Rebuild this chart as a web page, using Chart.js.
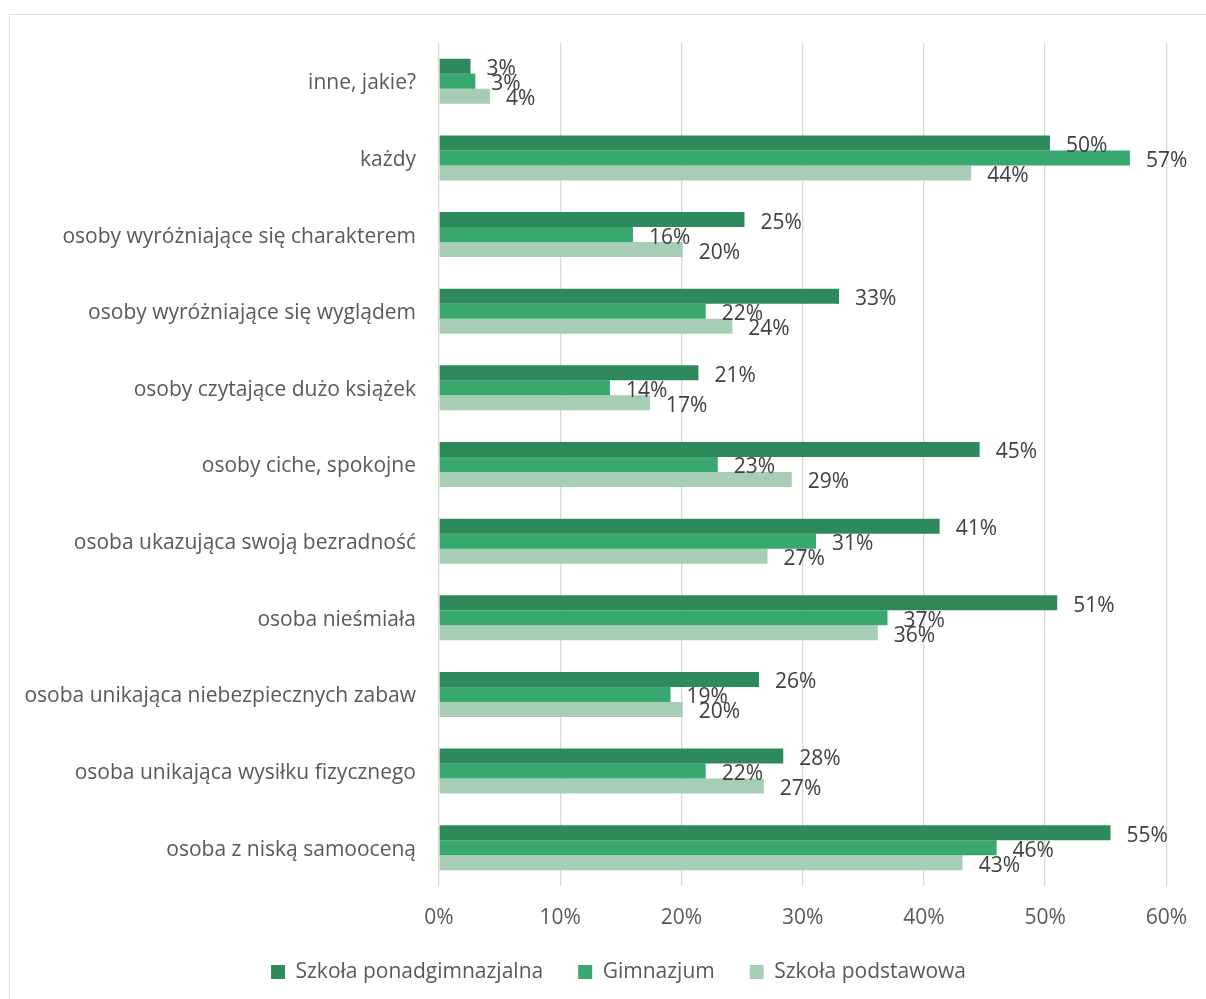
<!DOCTYPE html>
<html>
<head>
<meta charset="utf-8">
<script src="https://cdn.jsdelivr.net/npm/chart.js@4"></script>
<style>
  html, body { margin: 0; padding: 0; background: #fff; overflow: hidden; }
  #wrap { position: absolute; left: 0; top: 0; width: 1206px; height: 1030px; }
  #frame { position: absolute; left: 9px; top: 14px; width: 1300px; height: 1100px;
           border-left: 1px solid #d9d9d9; border-top: 1px solid #d9d9d9; }
</style>
</head>
<body>
<div id="frame"></div>
<div id="wrap"><canvas id="barChart"></canvas></div>
<script>
const categories = [
    'inne, jakie?',
    'każdy',
    'osoby wyróżniające się charakterem',
    'osoby wyróżniające się wyglądem',
    'osoby czytające dużo książek',
    'osoby ciche, spokojne',
    'osoba ukazująca swoją bezradność',
    'osoba nieśmiała',
    'osoba unikająca niebezpiecznych zabaw',
    'osoba unikająca wysiłku fizycznego',
    'osoba z niską samooceną'
];
const seriesNames = ['Szkoła ponadgimnazjalna', 'Gimnazjum', 'Szkoła podstawowa'];
const ponadgimnazjalna = [2.6, 50.4, 25.2, 33.0, 21.4, 44.6, 41.3, 51.0, 26.4, 28.4, 55.4];
const gimnazjum = [3.0, 57.0, 16.0, 22.0, 14.1, 23.0, 31.1, 37.0, 19.1, 22.0, 46.0];
const podstawowa = [4.2, 43.9, 20.1, 24.2, 17.4, 29.1, 27.1, 36.2, 20.1, 26.8, 43.2];
const xMax = 60;
const xStep = 10;

const FONT = "'Open Sans', sans-serif";
const FONT_SIZE = 21;

// value labels drawn just past the end of each bar
const valueLabels = {
    id: 'valueLabels',
    afterDatasetsDraw(chart) {
        const ctx = chart.ctx;
        ctx.save();
        ctx.font = FONT_SIZE + 'px ' + FONT;
        ctx.fillStyle = '#404040';
        ctx.textAlign = 'left';
        ctx.textBaseline = 'middle';
        chart.data.datasets.forEach((ds, i) => {
            const meta = chart.getDatasetMeta(i);
            meta.data.forEach((bar, j) => {
                ctx.fillText(Math.round(ds.data[j]) + '%', bar.x + 16, bar.y + 3);
            });
        });
        ctx.restore();
    }
};

// the legend sits a bit right of the canvas centre
const legendShift = {
    id: 'legendShift',
    afterLayout(chart) {
        if (chart.legend) {
            chart.legend.left += 34;
            chart.legend.right += 34;
        }
    }
};

const ctx = document.getElementById('barChart');
const chart = new Chart(ctx, {
    type: 'bar',
    data: {
        labels: categories,
        datasets: [
            { label: seriesNames[0], data: ponadgimnazjalna, backgroundColor: '#2e8a5b' },
            { label: seriesNames[1], data: gimnazjum, backgroundColor: '#38a86e' },
            { label: seriesNames[2], data: podstawowa, backgroundColor: '#a7cdb4' }
        ]
    },
    options: {
        indexAxis: 'y',
        responsive: true,
        maintainAspectRatio: false,
        animation: false,
        categoryPercentage: 0.587,
        barPercentage: 1.0,
        layout: { padding: { top: 43, right: 37, left: 0, bottom: 37.5 } },
        scales: {
            x: {
                min: 0,
                max: xMax,
                border: { display: false },
                grid: { color: '#d9d9d9', lineWidth: 1.3, drawTicks: false },
                ticks: {
                    stepSize: xStep,
                    padding: 19,
                    color: '#595959',
                    font: { family: FONT, size: FONT_SIZE },
                    callback: v => v + '%'
                },
                afterFit: s => { s.height = 40.5; }
            },
            y: {
                border: { display: false },
                grid: { display: false, drawTicks: false },
                ticks: {
                    padding: 23,
                    labelOffset: 2,
                    color: '#595959',
                    font: { family: FONT, size: FONT_SIZE }
                },
                afterFit: s => { s.width = 439; }
            }
        },
        plugins: {
            legend: {
                position: 'bottom',
                labels: {
                    boxWidth: 14,
                    boxHeight: 14,
                    padding: 35,
                    color: '#595959',
                    font: { family: FONT, size: FONT_SIZE }
                }
            },
            tooltip: { enabled: false }
        }
    },
    plugins: [valueLabels, legendShift]
});
</script>
</body>
</html>
